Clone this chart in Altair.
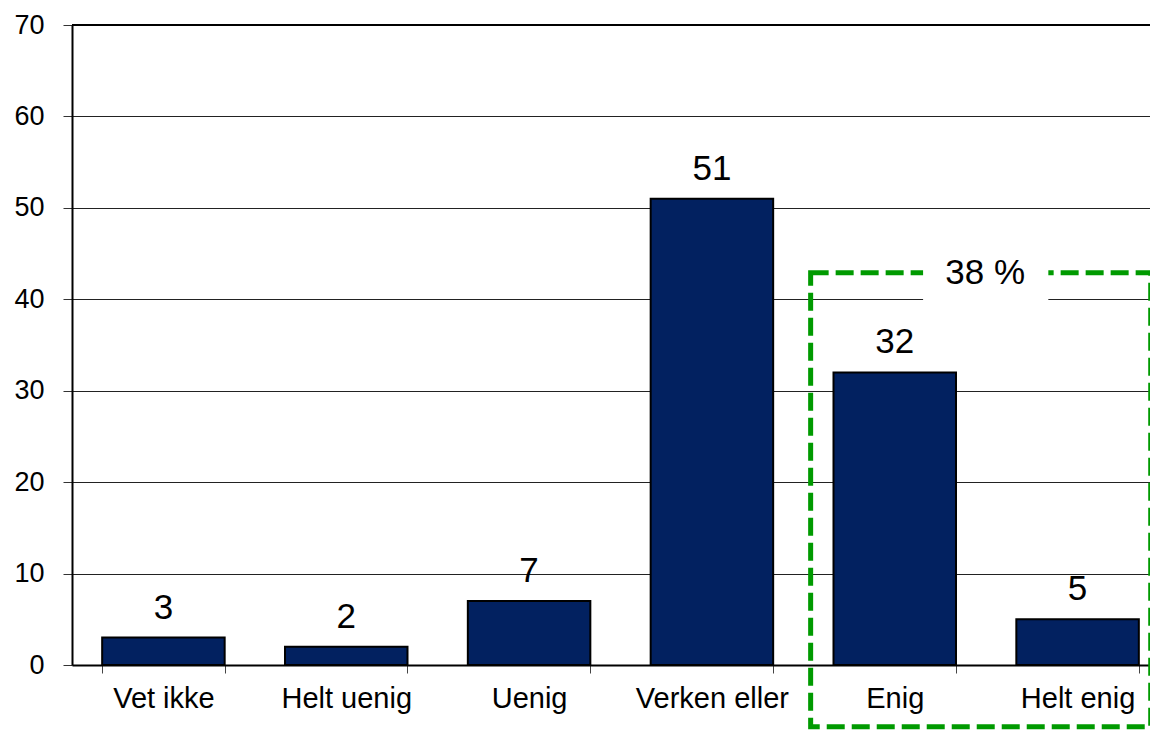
import altair as alt
import pandas as pd

# ---- data ----
categories = ["Vet ikke", "Helt uenig", "Uenig", "Verken eller", "Enig", "Helt enig"]
values = [3, 2, 7, 51, 32, 5]
y_ticks = [0, 10, 20, 30, 40, 50, 60, 70]

# annotation: dashed box around "Enig" + "Helt enig" (sum 38 %)
box_label = "38 %"
box_x = [4.04, 5.90]      # in category-slot units (0..6)
box_y = [-6.75, 42.9]     # in value units
gap_x = [4.655, 5.34]     # white gap behind label
gap_y = [39.4, 44.8]
label_xy = [4.995, 42.9]
top_line = [70]

FONT = "Liberation Sans"
NAVY = "#022160"
GREEN = "#009a00"

PLOT_W = 1078      # visible plot width (page is cropped on the right)
FULL_W = 1097      # full width of the six category slots

df = pd.DataFrame({"cat": categories, "val": values})
box_df = pd.DataFrame({"x": [box_x[0]], "x2": [box_x[1]], "y": [box_y[0]], "y2": [box_y[1]]})
gap_df = pd.DataFrame({"x": [gap_x[0]], "x2": [gap_x[1]], "y": [gap_y[0]], "y2": [gap_y[1]]})
lab_df = pd.DataFrame({"x": [label_xy[0]], "y": [label_xy[1]], "t": [box_label]})
top_df = pd.DataFrame({"val": top_line})

yscale = alt.Scale(domain=[0, 70], nice=False, zero=True)
yaxis = alt.Axis(values=y_ticks)
xband = alt.Scale(domain=categories, paddingInner=0.33, paddingOuter=0.165, range=[0, FULL_W])

x_enc = alt.X(
    "cat:N", sort=categories, scale=xband, title=None,
    axis=alt.Axis(labelAngle=0, tickBand="extent", labelFont=FONT, labelFontSize=29,
                  labelColor="black", labelPadding=11, tickSize=8, tickColor="#444",
                  tickWidth=1, domainColor="black", domainWidth=2, grid=False),
)

bars = alt.Chart(df).mark_bar(color=NAVY, stroke="black", strokeWidth=2).encode(
    x=x_enc, y=alt.Y("val:Q", scale=yscale, title=None, axis=yaxis)
)
texts = alt.Chart(df).mark_text(
    font=FONT, fontSize=35, color="black", baseline="alphabetic", dy=-19
).encode(
    x=alt.X("cat:N", sort=categories, scale=xband, title=None),
    y=alt.Y("val:Q", scale=yscale, title=None, axis=yaxis),
    text="val:Q",
)
top = alt.Chart(top_df).mark_rule(color="black", strokeWidth=2).encode(
    y=alt.Y("val:Q", scale=yscale, title=None, axis=yaxis)
)

base = alt.layer(bars, texts, top)

slot = alt.Scale(domain=[0, 6], nice=False, zero=False, range=[0, FULL_W])
box = alt.Chart(box_df).mark_rect(
    fill="transparent", stroke=GREEN, strokeWidth=5, strokeDash=[18, 7]
).encode(
    x=alt.X("x:Q", scale=slot, axis=None), x2="x2:Q",
    y=alt.Y("y:Q", scale=yscale, title=None, axis=yaxis), y2="y2:Q",
)
gap = alt.Chart(gap_df).mark_rect(fill="white").encode(
    x=alt.X("x:Q", scale=slot, axis=None), x2="x2:Q",
    y=alt.Y("y:Q", scale=yscale, title=None, axis=yaxis), y2="y2:Q",
)
lab = alt.Chart(lab_df).mark_text(font=FONT, fontSize=35, color="black", baseline="middle").encode(
    x=alt.X("x:Q", scale=slot, axis=None),
    y=alt.Y("y:Q", scale=yscale, title=None, axis=yaxis),
    text="t:N",
)
overlay = alt.layer(box, gap, lab)

chart = alt.layer(base, overlay).resolve_scale(x="independent").properties(
    width=PLOT_W, height=640,
    autosize=alt.AutoSizeParams(type="none"),
    padding={"left": 64, "top": 17, "right": 0, "bottom": 66},
).configure_view(stroke=None).configure_axisY(
    labelFont=FONT, labelFontSize=27, labelColor="black", labelPadding=19,
    tickSize=9, tickColor="#333", tickWidth=1, domainColor="black", domainWidth=2,
    grid=True, gridColor="#222", gridWidth=1,
)

chart.save("out.html", embed_options={"renderer": "svg", "actions": False})
